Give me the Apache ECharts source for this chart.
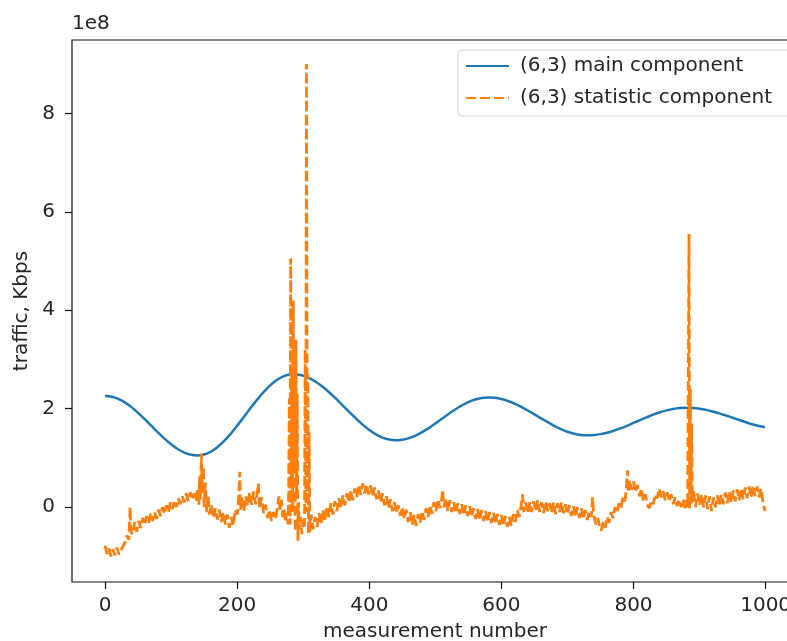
<!DOCTYPE html>
<html>
<head>
<meta charset="utf-8">
<script src="https://cdn.jsdelivr.net/npm/echarts@6/dist/echarts.min.js"></script>
<style>
html,body{margin:0;padding:0;background:#fff;}
#chart{width:787px;height:641px;}
</style>
</head>
<body>
<div id="chart"></div>
<script>
// values in units of 1e8 Kbps
const xTicks = [0, 200, 400, 600, 800, 1000];
const yTicks = [0, 2, 4, 6, 8];
const seriesNames = ['(6,3) main component', '(6,3) statistic component'];

const mainComponent = [[0,2.26],[10,2.245],[20,2.20],[30,2.128],[40,2.032],[50,1.917],[60,1.79],[70,1.655],[80,1.52],[90,1.393],[100,1.278],[110,1.182],[120,1.11],[130,1.065],[140,1.05],[150,1.069],[160,1.126],[170,1.218],[180,1.341],[190,1.489],[200,1.655],[210,1.83],[220,2.008],[230,2.18],[240,2.337],[250,2.474],[260,2.582],[270,2.657],[280,2.695],[290,2.697],[300,2.669],[310,2.616],[320,2.539],[330,2.44],[340,2.325],[350,2.198],[360,2.064],[370,1.929],[380,1.798],[390,1.676],[400,1.569],[410,1.48],[420,1.414],[430,1.374],[440,1.36],[450,1.371],[460,1.403],[470,1.455],[480,1.524],[490,1.606],[500,1.698],[510,1.795],[520,1.892],[530,1.984],[540,2.066],[550,2.135],[560,2.187],[570,2.219],[580,2.23],[590,2.222],[600,2.197],[610,2.156],[620,2.103],[630,2.037],[640,1.964],[650,1.885],[660,1.805],[670,1.726],[680,1.652],[690,1.587],[700,1.533],[710,1.493],[720,1.468],[730,1.46],[740,1.466],[750,1.484],[760,1.513],[770,1.553],[780,1.60],[790,1.653],[800,1.711],[810,1.769],[820,1.826],[830,1.88],[840,1.927],[850,1.966],[860,1.996],[870,2.014],[880,2.02],[890,2.015],[900,2.0],[910,1.976],[920,1.944],[930,1.906],[940,1.862],[950,1.817],[960,1.77],[970,1.725],[980,1.684],[990,1.649],[999,1.623]];

const statisticComponent = [[0,-0.78],[3,-0.95],[6,-0.84],[9,-1.0],[12,-0.86],[15,-0.98],[18,-0.82],[21,-0.96],[24,-1.0],[27,-0.8],[30,-0.72],[33,-0.58],[36,-0.66],[38,0.0],[39,-0.5],[42,-0.55],[45,-0.3],[48,-0.5],[51,-0.28],[54,-0.42],[57,-0.22],[60,-0.36],[63,-0.18],[66,-0.32],[69,-0.12],[72,-0.28],[75,-0.1],[78,-0.24],[81,-0.05],[84,-0.18],[87,0.0],[90,-0.14],[93,0.04],[96,-0.1],[99,0.1],[102,-0.04],[105,0.14],[108,0.0],[111,0.18],[114,0.06],[117,0.22],[120,0.1],[123,0.28],[126,0.12],[129,0.3],[132,0.15],[135,0.28],[138,0.12],[140,0.38],[142,0.05],[143,0.62],[144,0.12],[146,1.09],[147,0.3],[149,0.82],[150,0.0],[152,0.5],[154,-0.1],[156,0.25],[158,-0.15],[161,0.05],[164,-0.22],[167,-0.02],[170,-0.25],[173,-0.05],[176,-0.3],[179,-0.1],[182,-0.35],[185,-0.15],[188,-0.42],[191,-0.2],[194,-0.38],[197,-0.05],[200,-0.15],[202,0.1],[204,0.72],[205,-0.05],[207,0.2],[210,-0.08],[213,0.22],[216,0.02],[219,0.3],[222,0.05],[225,0.32],[228,0.06],[230,0.25],[232,0.48],[234,-0.02],[237,0.2],[240,-0.12],[243,0.05],[246,-0.22],[249,-0.05],[252,-0.28],[255,-0.1],[258,-0.25],[261,0.0],[263,0.22],[265,-0.05],[267,0.15],[269,-0.2],[271,-0.05],[273,-0.3],[275,-0.12],[277,-0.35],[278,0.3],[279,2.2],[280,-0.35],[281,5.05],[282,0.4],[283,2.7],[284,-0.1],[285,4.2],[286,0.8],[287,2.6],[288,-0.5],[289,3.4],[290,0.2],[291,2.3],[292,-0.68],[293,0.1],[294,-0.45],[296,-0.2],[298,-0.55],[300,-0.25],[302,-0.4],[303,3.2],[304,-0.1],[305,9.0],[306,0.3],[307,2.7],[308,-0.55],[309,1.52],[310,-0.5],[312,-0.15],[315,-0.45],[318,-0.2],[321,-0.4],[324,-0.12],[327,-0.35],[330,-0.05],[333,-0.28],[336,0.02],[339,-0.2],[342,0.08],[345,-0.15],[348,0.12],[351,-0.08],[354,0.18],[357,-0.02],[360,0.24],[363,0.04],[366,0.28],[369,0.1],[372,0.34],[375,0.14],[378,0.38],[381,0.2],[384,0.45],[387,0.25],[390,0.48],[393,0.28],[396,0.46],[399,0.26],[402,0.44],[405,0.22],[408,0.4],[411,0.16],[414,0.34],[417,0.1],[420,0.28],[423,0.04],[426,0.22],[429,-0.02],[432,0.16],[435,-0.08],[438,0.1],[441,-0.12],[444,0.04],[447,-0.18],[450,0.0],[453,-0.24],[456,-0.05],[459,-0.3],[462,-0.1],[465,-0.36],[468,-0.16],[471,-0.38],[474,-0.14],[477,-0.32],[480,-0.08],[483,-0.26],[486,-0.02],[489,-0.2],[492,0.04],[495,-0.14],[498,0.1],[501,-0.08],[504,0.16],[507,-0.02],[510,0.2],[511,0.36],[513,0.0],[516,0.18],[519,-0.08],[522,0.14],[525,-0.1],[528,0.1],[531,-0.12],[534,0.08],[537,-0.14],[540,0.06],[543,-0.16],[546,0.04],[549,-0.18],[552,0.02],[555,-0.2],[558,-0.02],[561,-0.24],[564,-0.04],[567,-0.26],[570,-0.06],[573,-0.28],[576,-0.08],[579,-0.3],[582,-0.1],[585,-0.32],[588,-0.12],[591,-0.34],[594,-0.14],[597,-0.36],[600,-0.16],[603,-0.38],[606,-0.18],[609,-0.4],[612,-0.2],[615,-0.38],[618,-0.14],[621,-0.3],[624,-0.06],[627,-0.2],[630,0.04],[632,0.26],[634,-0.1],[637,0.1],[640,-0.12],[643,0.1],[646,-0.1],[649,0.12],[652,-0.08],[655,0.14],[658,-0.1],[661,0.1],[664,-0.12],[667,0.12],[670,-0.08],[673,0.08],[676,-0.12],[679,0.1],[682,-0.14],[685,0.08],[688,-0.1],[691,0.1],[694,-0.12],[697,0.06],[700,-0.14],[703,0.04],[706,-0.18],[709,0.02],[712,-0.2],[715,0.0],[718,-0.22],[721,-0.02],[724,-0.24],[727,-0.06],[730,-0.26],[733,-0.08],[736,-0.2],[738,0.2],[740,-0.18],[743,-0.35],[746,-0.22],[749,-0.42],[751,-0.48],[754,-0.3],[757,-0.42],[760,-0.2],[763,-0.32],[766,-0.1],[769,-0.22],[772,0.0],[775,-0.12],[778,0.08],[781,-0.02],[784,0.2],[787,0.12],[789,0.35],[791,0.75],[792,0.3],[794,0.55],[797,0.35],[800,0.52],[803,0.3],[806,0.45],[809,0.22],[812,0.38],[815,0.12],[818,0.26],[821,0.04],[824,-0.02],[827,0.14],[830,0.06],[833,0.26],[836,0.18],[839,0.38],[842,0.2],[845,0.32],[848,0.14],[851,0.3],[854,0.12],[857,0.26],[860,0.06],[863,0.2],[866,0.02],[869,0.16],[872,0.0],[875,0.16],[878,-0.02],[880,0.14],[882,0.0],[883,2.9],[884,5.55],[885,-0.05],[886,2.4],[887,0.05],[888,1.7],[889,0.1],[891,0.32],[894,0.0],[897,0.28],[900,0.04],[903,0.26],[906,0.0],[909,0.24],[912,-0.04],[915,0.22],[918,-0.08],[921,0.2],[924,0.0],[927,0.24],[930,0.02],[933,0.26],[936,0.06],[939,0.3],[942,0.08],[945,0.32],[948,0.1],[951,0.34],[954,0.12],[957,0.36],[960,0.14],[963,0.38],[966,0.16],[969,0.4],[972,0.18],[975,0.42],[978,0.2],[981,0.44],[984,0.22],[987,0.42],[990,0.2],[993,0.38],[996,0.1],[999,-0.08]];

const FONT = 'DejaVu Sans';
const TXT = '#262626';
const chart = echarts.init(document.getElementById('chart'), null, {renderer: 'canvas'});
chart.setOption({
  animation: false,
  backgroundColor: '#ffffff',
  textStyle: {fontFamily: FONT},
  grid: {left: 72, top: 40, width: 726, height: 542, show: true, borderColor: '#111', borderWidth: 1.2,
         backgroundColor: 'transparent', containLabel: false, outerBoundsMode: 'none'},
  legend: {
    orient: 'vertical', left: 458, top: 50,
    data: seriesNames,
    itemWidth: 43, itemHeight: 20, itemGap: 12,
    padding: [6, 40, 8, 7],
    borderColor: '#d6d6d6', borderWidth: 1, borderRadius: 4,
    backgroundColor: 'rgba(255,255,255,0.85)',
    itemStyle: {opacity: 0, borderWidth: 0},
    textStyle: {fontFamily: FONT, fontSize: 20, color: TXT, padding: [0,0,0,6]}
  },
  graphic: [{type: 'text', left: 72, top: 14, style: {text: '1e8', font: '20px "DejaVu Sans"', fill: TXT}}],
  xAxis: {
    type: 'value', min: -50, max: 1049,
    name: 'measurement number', nameLocation: 'middle', nameGap: 40,
    nameTextStyle: {fontFamily: FONT, fontSize: 20, color: TXT},
    axisLine: {show: false, onZero: false},
    axisTick: {show: true, length: 7, lineStyle: {color: '#111', width: 1.2}, customValues: xTicks},
    axisLabel: {fontFamily: FONT, fontSize: 20, color: TXT, margin: 14, customValues: xTicks, formatter: v => String(v)},
    splitLine: {show: false}
  },
  yAxis: {
    type: 'value', min: -1.52, max: 9.49,
    name: 'traffic, Kbps', nameLocation: 'middle', nameGap: 40, nameRotate: 90,
    nameTextStyle: {fontFamily: FONT, fontSize: 20, color: TXT},
    axisLine: {show: false, onZero: false},
    axisTick: {show: true, length: 7, lineStyle: {color: '#111', width: 1.2}, customValues: yTicks},
    axisLabel: {fontFamily: FONT, fontSize: 20, color: TXT, margin: 17, customValues: yTicks, formatter: v => String(v)},
    splitLine: {show: false}
  },
  series: [
    {name: seriesNames[0], type: 'line', data: mainComponent, smooth: 0.3, symbol: 'none', showSymbol: false,
     itemStyle: {color: '#1f77b4'}, lineStyle: {color: '#1f77b4', width: 2.5}},
    {name: seriesNames[1], type: 'line', data: statisticComponent, symbol: 'none', showSymbol: false,
     itemStyle: {color: '#ff7f0e'}, lineStyle: {color: '#ff7f0e', width: 2.8, type: [10, 4]}}
  ]
});
</script>
</body>
</html>
